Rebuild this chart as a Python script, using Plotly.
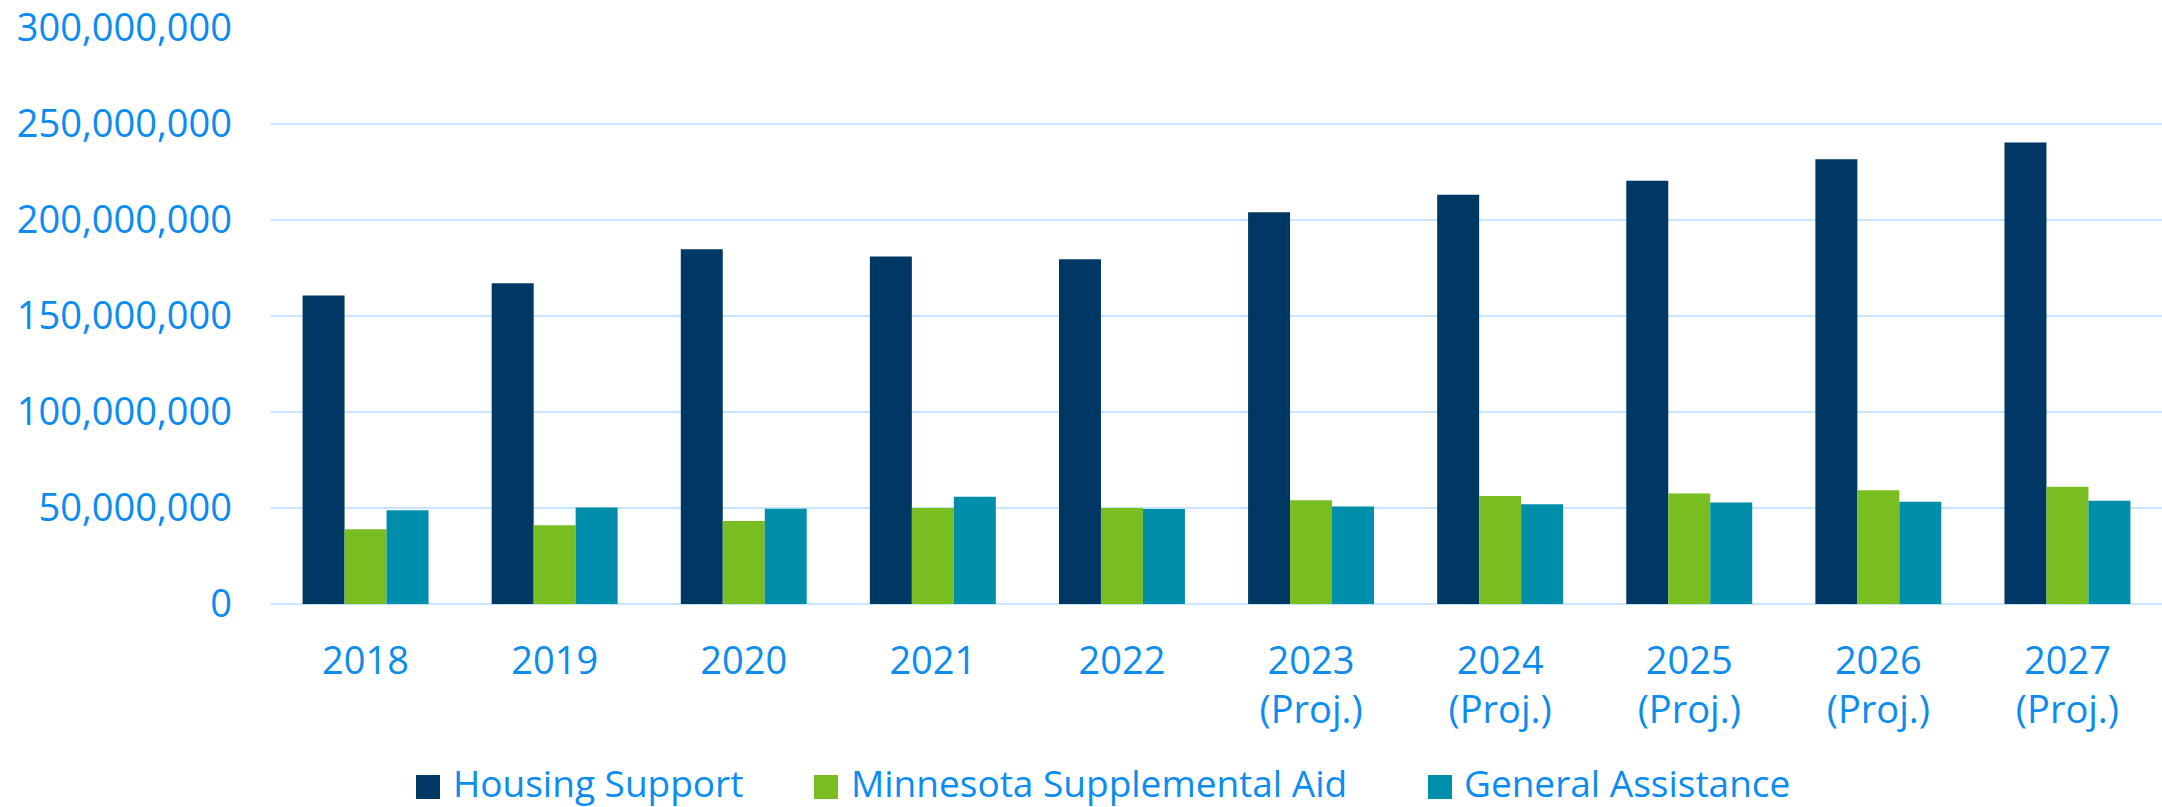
import plotly.graph_objects as go

# Fiscal years (projected years carry a second line)
years = ["2018", "2019", "2020", "2021", "2022",
         "2023<br>(Proj.)", "2024<br>(Proj.)", "2025<br>(Proj.)",
         "2026<br>(Proj.)", "2027<br>(Proj.)"]

# Annual spending, dollars
housing_support = [160.7e6, 167.1e6, 184.8e6, 181.0e6, 179.6e6,
                   204.1e6, 213.1e6, 220.5e6, 231.6e6, 240.3e6]
mn_supplemental_aid = [38.9e6, 41.0e6, 43.2e6, 50.0e6, 50.0e6,
                       54.1e6, 56.2e6, 57.6e6, 59.3e6, 61.1e6]
general_assistance = [48.8e6, 50.3e6, 49.6e6, 55.9e6, 49.5e6,
                      50.8e6, 51.9e6, 52.9e6, 53.3e6, 53.8e6]

y_ticks = [0, 50e6, 100e6, 150e6, 200e6, 250e6, 300e6]

series_names = ["Housing Support", "Minnesota Supplemental Aid", "General Assistance"]
series_colors = ["#003865", "#78BE21", "#008EAA"]

TEXT_BLUE = "#0A8CF0"
GRID_BLUE = "#C9E5FB"
FONT = "Open Sans"

W, H = 2162, 807
L, R, T, B = 271, 0, 28, 203

fig = go.Figure()
for name, vals, col in zip(series_names,
                           [housing_support, mn_supplemental_aid, general_assistance],
                           series_colors):
    fig.add_trace(go.Bar(x=years, y=vals, name=name, marker_color=col,
                         marker_line_width=0, showlegend=False))

# Legend drawn as paper-space squares plus labels
plot_w = W - L - R
plot_h = H - T - B


def px_x(px):
    return (px - L) / plot_w


def px_y(py):
    return (H - B - py) / plot_h


legend_items = [(416, 451), (814, 849), (1428, 1462)]
shapes = []
annotations = []
for (sq_x, tx_x), name, col in zip(legend_items, series_names, series_colors):
    shapes.append(dict(type="rect", xref="paper", yref="paper",
                       x0=px_x(sq_x), x1=px_x(sq_x + 24),
                       y0=px_y(775), y1=px_y(799),
                       fillcolor=col, line_width=0))
    annotations.append(dict(xref="paper", yref="paper", x=px_x(tx_x), y=px_y(782),
                            xanchor="left", yanchor="middle", showarrow=False,
                            text=name, font=dict(family=FONT, size=37, color=TEXT_BLUE)))

fig.update_layout(
    width=W, height=H,
    margin=dict(l=L, r=R, t=T, b=B, pad=0),
    paper_bgcolor="white", plot_bgcolor="white",
    barmode="group", bargap=0.334, bargroupgap=0,
    font=dict(family=FONT, size=38, color=TEXT_BLUE),
    shapes=shapes, annotations=annotations,
    xaxis=dict(showgrid=False, showline=False, zeroline=False, ticks="",
               tickfont=dict(family=FONT, size=38, color=TEXT_BLUE),
               ticklabelstandoff=31),
    yaxis=dict(range=[0, 300e6], tickvals=y_ticks, tickformat=",d",
               showgrid=True, gridcolor=GRID_BLUE, gridwidth=2,
               zeroline=True, zerolinecolor=GRID_BLUE, zerolinewidth=2,
               showline=False, ticks="",
               tickfont=dict(family=FONT, size=38, color=TEXT_BLUE),
               ticklabelstandoff=38),
)

fig.write_html("out.html")
